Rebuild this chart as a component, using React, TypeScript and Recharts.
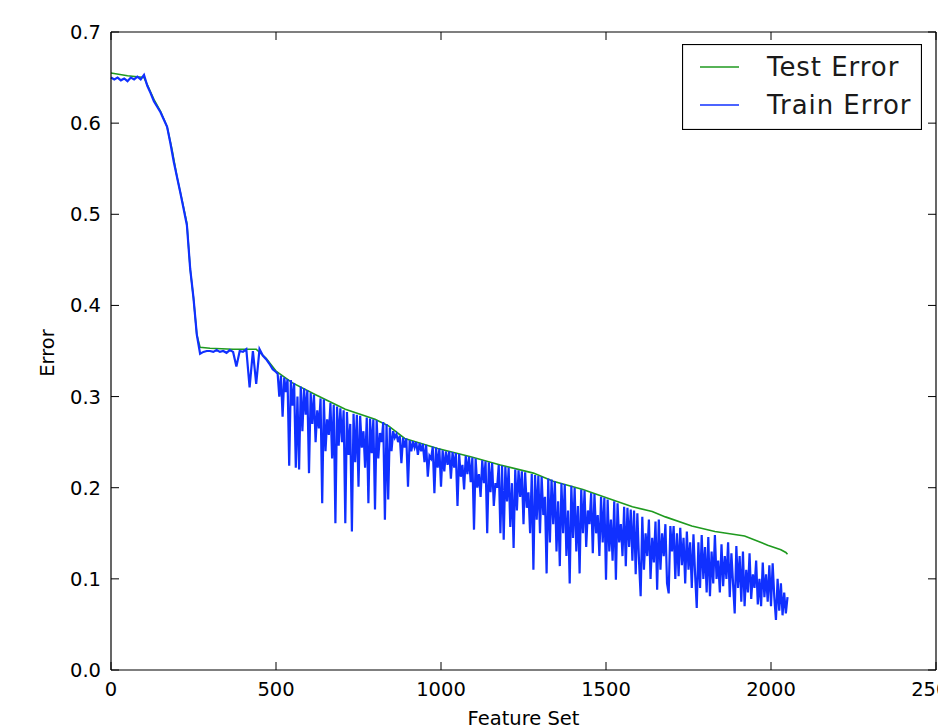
import React from "react";
import { LineChart, Line, XAxis, YAxis, ReferenceLine } from "recharts";

const X_TICKS = [0, 500, 1000, 1500, 2000, 2500];
const Y_TICKS = [0, 0.1, 0.2, 0.3, 0.4, 0.5, 0.6, 0.7];

// test error
const TEST_X = [0, 50, 100, 110, 130, 150, 170, 185, 200, 215, 230, 240, 250, 260, 270, 300, 370, 440, 470, 500, 550, 620, 710, 800, 840, 890, 990, 1090, 1180, 1280, 1340, 1430, 1510, 1580, 1640, 1680, 1760, 1830, 1920, 1990, 2030, 2045, 2050];
const TEST_Y = [0.655, 0.652, 0.65, 0.642, 0.626, 0.613, 0.596, 0.571, 0.541, 0.516, 0.49, 0.44, 0.408, 0.368, 0.354, 0.353, 0.352, 0.352, 0.342, 0.328, 0.315, 0.302, 0.286, 0.275, 0.268, 0.254, 0.243, 0.234, 0.225, 0.216, 0.207, 0.198, 0.188, 0.179, 0.174, 0.168, 0.158, 0.152, 0.147, 0.137, 0.132, 0.129, 0.127];

// train error, x = 0..490 every 10
const TRAIN_HEAD = [
  0.650, 0.648, 0.650, 0.647, 0.649, 0.646, 0.650, 0.648, 0.651, 0.648,
  0.653, 0.641, 0.633, 0.624, 0.618, 0.612, 0.604, 0.596, 0.578, 0.558,
  0.541, 0.524, 0.506, 0.488, 0.440, 0.408, 0.368, 0.347, 0.349, 0.350,
  0.350, 0.349, 0.351, 0.349, 0.350, 0.348, 0.351, 0.349, 0.333, 0.350,
  0.349, 0.352, 0.310, 0.350, 0.314, 0.352, 0.345, 0.341, 0.336, 0.330,
];

// train error, x = 500..2050 every 5
const TRAIN_TAIL = [
  0.327, 0.325, 0.300, 0.323, 0.278, 0.321, 0.305, 0.319, 0.224, 0.318, 0.290, 0.315, 0.222, 0.300, 0.220, 0.311, 0.262, 0.309, 0.280, 0.307,
  0.216, 0.304, 0.270, 0.302, 0.250, 0.285, 0.265, 0.298, 0.183, 0.297, 0.240, 0.275, 0.258, 0.293, 0.232, 0.291, 0.161, 0.289, 0.246, 0.287,
  0.250, 0.285, 0.161, 0.283, 0.236, 0.270, 0.152, 0.281, 0.228, 0.280, 0.201, 0.279, 0.244, 0.262, 0.222, 0.277, 0.183, 0.276, 0.238, 0.275,
  0.176, 0.274, 0.232, 0.260, 0.250, 0.272, 0.165, 0.270, 0.187, 0.266, 0.240, 0.262, 0.255, 0.259, 0.250, 0.257, 0.227, 0.255, 0.244, 0.254,
  0.201, 0.252, 0.240, 0.251, 0.244, 0.250, 0.236, 0.249, 0.240, 0.248, 0.228, 0.247, 0.212, 0.235, 0.232, 0.245, 0.194, 0.244, 0.222, 0.243,
  0.201, 0.241, 0.218, 0.240, 0.225, 0.240, 0.210, 0.239, 0.222, 0.238, 0.180, 0.237, 0.212, 0.225, 0.198, 0.235, 0.215, 0.234, 0.206, 0.233,
  0.154, 0.232, 0.200, 0.215, 0.190, 0.230, 0.205, 0.229, 0.150, 0.228, 0.195, 0.227, 0.180, 0.205, 0.200, 0.225, 0.150, 0.224, 0.143, 0.223,
  0.185, 0.222, 0.157, 0.205, 0.134, 0.220, 0.175, 0.219, 0.190, 0.218, 0.160, 0.217, 0.178, 0.195, 0.150, 0.215, 0.110, 0.214, 0.165, 0.213,
  0.150, 0.212, 0.170, 0.190, 0.106, 0.210, 0.140, 0.209, 0.160, 0.207, 0.130, 0.185, 0.114, 0.205, 0.150, 0.204, 0.125, 0.175, 0.095, 0.202,
  0.145, 0.200, 0.130, 0.180, 0.106, 0.198, 0.150, 0.197, 0.135, 0.175, 0.160, 0.194, 0.128, 0.193, 0.150, 0.170, 0.125, 0.190, 0.140, 0.189,
  0.099, 0.187, 0.130, 0.165, 0.120, 0.185, 0.099, 0.183, 0.140, 0.160, 0.125, 0.179, 0.114, 0.178, 0.135, 0.176, 0.120, 0.175, 0.105, 0.172,
  0.120, 0.081, 0.168, 0.110, 0.150, 0.125, 0.165, 0.100, 0.145, 0.118, 0.163, 0.088, 0.165, 0.110, 0.150, 0.125, 0.160, 0.095, 0.084, 0.158,
  0.130, 0.158, 0.100, 0.150, 0.103, 0.156, 0.115, 0.145, 0.095, 0.152, 0.110, 0.140, 0.090, 0.149, 0.105, 0.068, 0.140, 0.090, 0.148, 0.100,
  0.135, 0.085, 0.146, 0.081, 0.130, 0.095, 0.148, 0.100, 0.120, 0.085, 0.138, 0.092, 0.125, 0.100, 0.140, 0.080, 0.128, 0.095, 0.062, 0.136,
  0.090, 0.125, 0.075, 0.130, 0.070, 0.110, 0.085, 0.128, 0.078, 0.105, 0.090, 0.120, 0.072, 0.100, 0.070, 0.118, 0.080, 0.105, 0.075, 0.115,
  0.070, 0.117, 0.080, 0.055, 0.100, 0.065, 0.095, 0.060, 0.085, 0.062, 0.080,
];

const GREEN = "#1f9a1f";
const BLUE = "#1030ff";
const FONT = "'DejaVu Sans', sans-serif";

const testData = TEST_X.map((x, i) => ({ x, y: TEST_Y[i] }));
const trainData = [
  ...TRAIN_HEAD.map((y, i) => ({ x: i * 10, y })),
  ...TRAIN_TAIL.map((y, i) => ({ x: 500 + i * 5, y })),
];

// matplotlib classic: ticks point inward, on all four sides
const BottomTick = ({ x, y, payload }: any) => (
  <g>
    <line x1={x} x2={x} y1={y} y2={y - 8} stroke="#000" />
    <text x={x} y={y + 26} textAnchor="middle" fontFamily={FONT} fontSize={19.5} fill="#000">
      {payload.value}
    </text>
  </g>
);
const TopTick = ({ x, y }: any) => <line x1={x} x2={x} y1={y} y2={y + 8} stroke="#000" />;
const LeftTick = ({ x, y, payload }: any) => (
  <g>
    <line x1={x} x2={x + 8} y1={y} y2={y} stroke="#000" />
    <text x={x - 10} y={y + 7} textAnchor="end" fontFamily={FONT} fontSize={19.5} fill="#000">
      {Number(payload.value).toFixed(1)}
    </text>
  </g>
);
const RightTick = ({ x, y }: any) => <line x1={x} x2={x - 8} y1={y} y2={y} stroke="#000" />;

function LegendBox() {
  return (
    <svg
      width={240}
      height={86}
      style={{ position: "absolute", left: 682, top: 44 }}
    >
      <rect x={0.5} y={0.5} width={239} height={85} fill="#fff" stroke="#000" strokeWidth={1.2} />
      <line x1={18} x2={57} y1={23} y2={23} stroke={GREEN} strokeWidth={1.5} />
      <text x={85} y={32} fontFamily={FONT} fontSize={26} letterSpacing={0.95} fill="#1a1a1a">Test Error</text>
      <line x1={18} x2={57} y1={61} y2={61} stroke={BLUE} strokeWidth={1.5} />
      <text x={85} y={69.5} fontFamily={FONT} fontSize={26} letterSpacing={0.95} fill="#1a1a1a">Train Error</text>
    </svg>
  );
}

export default function App() {
  return (
    <div style={{ position: "absolute", left: 0, top: 0, width: 938, height: 727, background: "#fff" }}>
      <LineChart width={938} height={727} margin={{ top: 31, right: 1, bottom: 0, left: 0 }}>
        <XAxis
          dataKey="x"
          type="number"
          domain={[0, 2500]}
          ticks={X_TICKS}
          interval={0}
          height={57}
          tickSize={0}
          tickMargin={0}
          tick={<BottomTick />}
          axisLine={{ stroke: "#000", strokeWidth: 1.2 }}
          allowDuplicatedCategory={false}
          label={{
            content: (p: any) => (
              <text
                x={p.viewBox.x + p.viewBox.width / 2}
                y={725}
                textAnchor="middle"
                fontFamily={FONT}
                fontSize={19.5}
                fill="#000"
              >
                Feature Set
              </text>
            ),
          }}
        />
        <XAxis
          xAxisId="top"
          orientation="top"
          dataKey="x"
          type="number"
          domain={[0, 2500]}
          ticks={X_TICKS}
          interval={0}
          height={1}
          tickSize={0}
          tickMargin={0}
          tick={<TopTick />}
          axisLine={false}
          allowDuplicatedCategory={false}
        />
        <YAxis
          type="number"
          domain={[0, 0.7]}
          ticks={Y_TICKS}
          interval={0}
          width={111}
          tickSize={0}
          tickMargin={0}
          tick={<LeftTick />}
          axisLine={{ stroke: "#000", strokeWidth: 1.2 }}
          label={{
            content: () => (
              <text
                x={54}
                y={353}
                transform="rotate(-90 54 353)"
                textAnchor="middle"
                fontFamily={FONT}
                fontSize={19.5}
                fill="#000"
              >
                Error
              </text>
            ),
          }}
        />
        <YAxis
          yAxisId="right"
          orientation="right"
          type="number"
          domain={[0, 0.7]}
          ticks={Y_TICKS}
          interval={0}
          width={1}
          tickSize={0}
          tickMargin={0}
          tick={<RightTick />}
          axisLine={false}
        />
        {/* top and right edges of the axes frame */}
        <ReferenceLine y={0.7} stroke="#000" strokeWidth={1.2} ifOverflow="extendDomain" />
        <ReferenceLine x={2500} stroke="#000" strokeWidth={1.2} ifOverflow="extendDomain" />
        {/* same domains as the bottom/left axes, bound here so the top/right tick marks render */}
        <Line
          data={testData}
          xAxisId="top"
          yAxisId="right"
          dataKey="y"
          type="linear"
          stroke={GREEN}
          strokeWidth={1.6}
          dot={false}
          isAnimationActive={false}
        />
        <Line
          data={trainData}
          dataKey="y"
          type="linear"
          stroke={BLUE}
          strokeWidth={2.2}
          dot={false}
          isAnimationActive={false}
        />
      </LineChart>
      <LegendBox />
    </div>
  );
}
